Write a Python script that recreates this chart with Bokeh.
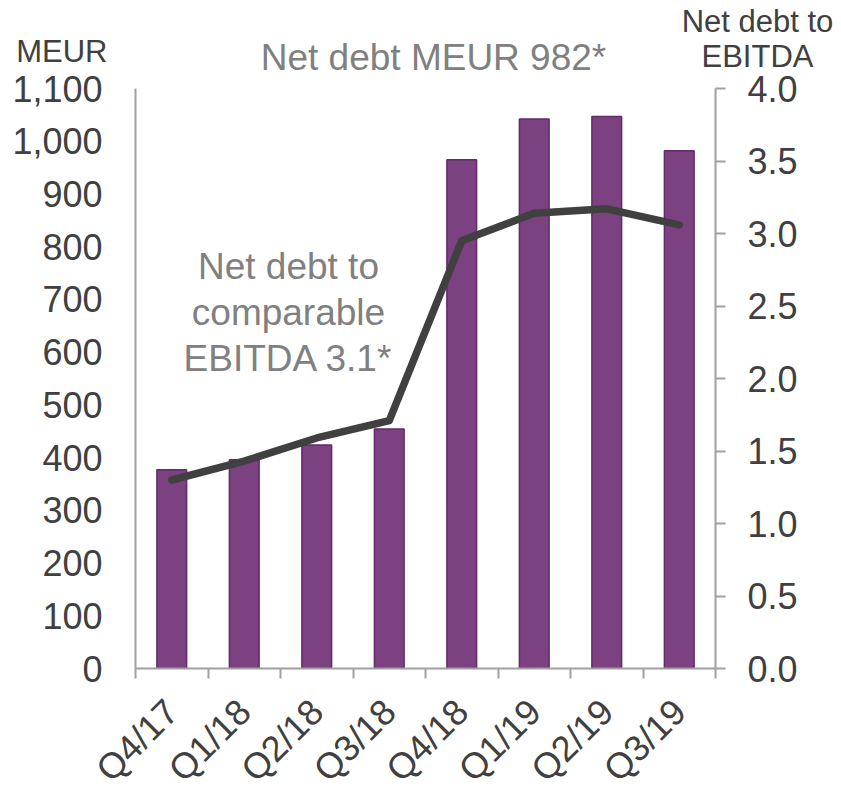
import math
from bokeh.plotting import figure
from bokeh.models import Range1d, LinearAxis, FixedTicker, NumeralTickFormatter, Label
from bokeh.embed import file_html
from bokeh.resources import INLINE

quarters = ["Q4/17", "Q1/18", "Q2/18", "Q3/18", "Q4/18", "Q1/19", "Q2/19", "Q3/19"]
net_debt_meur = [377, 396, 424, 454, 965, 1042, 1047, 982]
net_debt_to_ebitda = [1.30, 1.43, 1.59, 1.71, 2.95, 3.14, 3.17, 3.06]
left_ticks = [0, 100, 200, 300, 400, 500, 600, 700, 800, 900, 1000, 1100]
right_ticks = [0.0, 0.5, 1.0, 1.5, 2.0, 2.5, 3.0, 3.5, 4.0]

FONT = "Liberation Sans"
DARK = "#404040"
GRAY = "#808080"
AXIS = "#A0A0A0"

W = 825
HEAD_W = 835
HEAD_H = 84
OVERLAP = 20

xs = list(range(len(quarters)))
n = len(quarters)

# ---- header strip (axis titles and the headline), pixel coordinates ----
head = figure(width=HEAD_W, height=HEAD_H, x_range=Range1d(0, HEAD_W),
              y_range=Range1d(0, HEAD_H),
              output_backend="svg", toolbar_location=None, min_border=0, title=None,
              x_axis_location=None, y_axis_location=None)
head.outline_line_color = None
head.grid.visible = False
head.add_layout(Label(x=107, y=HEAD_H - 51, text="MEUR", text_align="right",
                      text_baseline="middle", text_font=FONT,
                      text_font_size="31px", text_color=DARK))
head.add_layout(Label(x=433, y=HEAD_H - 56.5, text="Net debt MEUR 982*",
                      text_align="center", text_baseline="middle", text_font=FONT,
                      text_font_size="37px", text_color=GRAY))
head.add_layout(Label(x=757, y=HEAD_H - 21, text="Net debt to", text_align="center",
                      text_baseline="middle", text_font=FONT,
                      text_font_size="31px", text_color=DARK))
head.add_layout(Label(x=757, y=HEAD_H - 56, text="EBITDA", text_align="center",
                      text_baseline="middle", text_font=FONT,
                      text_font_size="31px", text_color=DARK))

# ---- main chart (transparent, overlapping the header strip) ----
p = figure(
    frame_width=580, frame_height=580,
    x_range=Range1d(-0.5, n - 0.5), y_range=Range1d(0, 1100),
    output_backend="svg", toolbar_location=None, title=None,
    min_border_left=135, min_border_right=W - 135 - 580, min_border_top=24,
    min_border_bottom=116,
    x_axis_location=None, y_axis_location=None,
)
p.styles = {"margin-top": f"-{OVERLAP}px"}
p.background_fill_color = None
p.border_fill_color = None
p.outline_line_color = None
p.grid.visible = False
p.extra_y_ranges = {"ratio": Range1d(0, 4)}

p.vbar(x=xs, top=net_debt_meur, width=0.41, fill_color="#7B4180",
       line_color="#632B69", line_width=1.5)
p.line(x=xs, y=net_debt_to_ebitda, y_range_name="ratio", line_color=DARK,
       line_width=7.5, line_cap="round", line_join="round")

# x axis: labels at quarter centres, tick marks between quarters
xaxis = LinearAxis(
    ticker=FixedTicker(ticks=xs, minor_ticks=[i - 0.5 for i in range(n + 1)]),
    major_label_overrides={i: q for i, q in enumerate(quarters)},
)
xaxis.major_tick_line_color = None
xaxis.minor_tick_line_color = AXIS
xaxis.minor_tick_line_width = 2
xaxis.minor_tick_out = 10
xaxis.minor_tick_in = 0
xaxis.axis_line_color = AXIS
xaxis.axis_line_width = 2
xaxis.major_label_orientation = math.pi / 4
xaxis.major_label_text_font = FONT
xaxis.major_label_text_font_size = "36px"
xaxis.major_label_text_color = DARK
xaxis.major_label_standoff = 27
p.add_layout(xaxis, "below")

# left axis
yaxis = LinearAxis(ticker=FixedTicker(ticks=left_ticks),
                   formatter=NumeralTickFormatter(format="0,0"))
yaxis.major_tick_line_color = None
yaxis.minor_tick_line_color = None
yaxis.major_tick_out = 0
yaxis.axis_line_color = AXIS
yaxis.axis_line_width = 2
yaxis.major_label_text_font = FONT
yaxis.major_label_text_font_size = "36px"
yaxis.major_label_text_color = DARK
yaxis.major_label_standoff = 33
p.add_layout(yaxis, "left")

# right axis
raxis = LinearAxis(y_range_name="ratio", ticker=FixedTicker(ticks=right_ticks),
                   formatter=NumeralTickFormatter(format="0.0"))
raxis.major_tick_line_color = AXIS
raxis.major_tick_line_width = 2
raxis.major_tick_out = 10
raxis.major_tick_in = 0
raxis.minor_tick_line_color = None
raxis.axis_line_color = AXIS
raxis.axis_line_width = 2
raxis.major_label_text_font = FONT
raxis.major_label_text_font_size = "36px"
raxis.major_label_text_color = DARK
raxis.major_label_standoff = 22
p.add_layout(raxis, "right")

# in-plot annotation
p.add_layout(Label(x=1.61, y=675, text="Net debt to\ncomparable\nEBITDA 3.1*",
                   text_align="center", text_baseline="middle",
                   text_font=FONT, text_font_size="37px", text_color=GRAY,
                   text_line_height=1.13))

# two separate roots stacked in the page (no frame alignment between them)
open("out.html", "w").write(file_html([head, p], INLINE))
